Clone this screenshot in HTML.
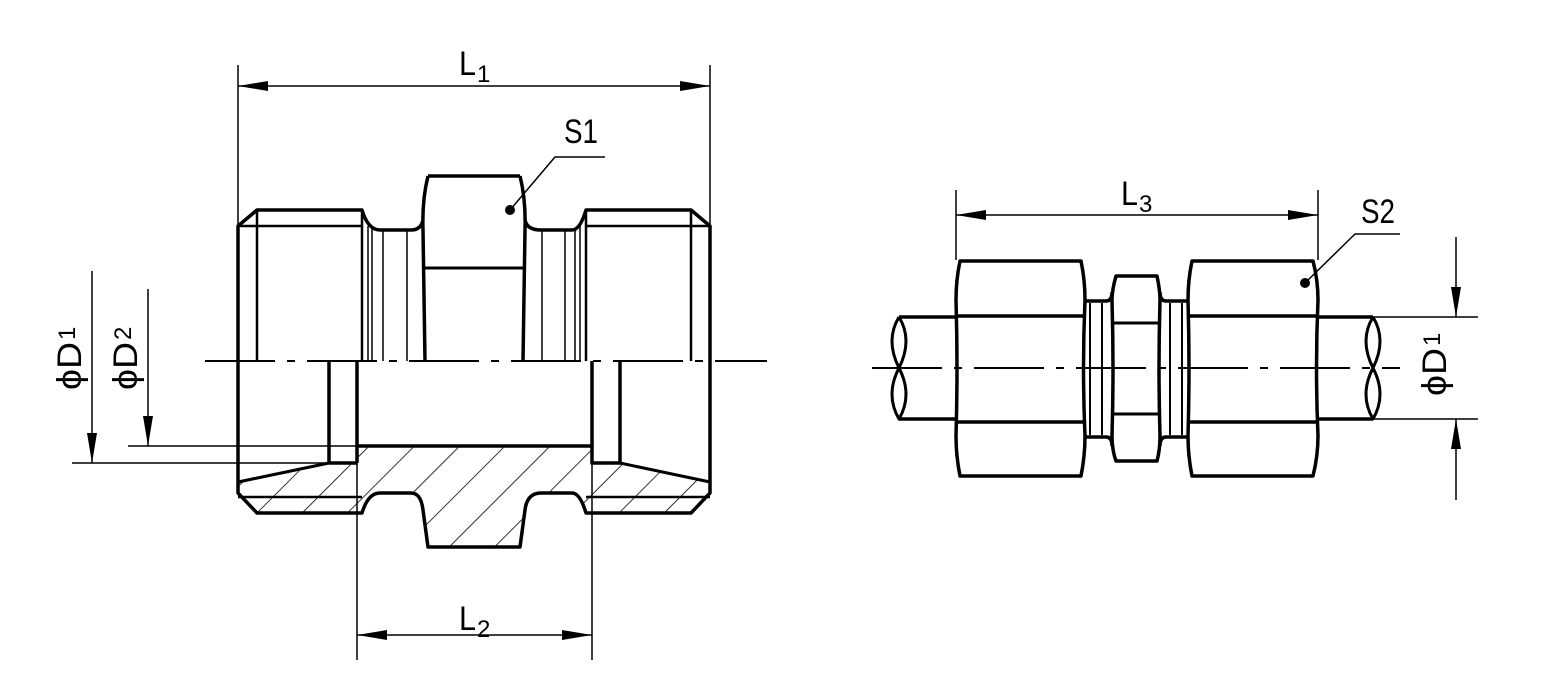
<!DOCTYPE html>
<html><head><meta charset="utf-8"><style>html,body{margin:0;padding:0;background:#fff}svg{display:block}</style></head>
<body>
<svg width="1546" height="695" viewBox="0 0 1546 695" xmlns="http://www.w3.org/2000/svg" font-family="Liberation Sans, sans-serif">
<defs>
<pattern id="h" patternUnits="userSpaceOnUse" width="32" height="32" patternTransform="rotate(45)">
<line x1="0" y1="0" x2="0" y2="32" stroke="#000" stroke-width="1.6"/>
</pattern>
<marker id="a" viewBox="0 0 30 10" refX="30" refY="5" markerWidth="30" markerHeight="10" markerUnits="userSpaceOnUse" orient="auto-start-reverse"><path d="M0,0 L30,5 L0,10 Z" fill="#000"/></marker>
</defs>
<g fill="none" stroke="#000" stroke-linejoin="round">
<path d="M238,482 L329,463 L357,463 L357,446 L592,446 L592,463 L620,463 L710,482 L710,493 L691,513 L586,513 Q580,493 572,493 L541,493 Q529,493 527,510 L520,547 L428,547 L423,510 Q421,493 411,493 L380,493 Q372,493 366,513 L257,513 L238,493 Z" fill="url(#h)" stroke="none"/>
<g stroke-width="3.5">
<path d="M238,361 L238,226 L257,210 L362,210 Q368,230 380,230 L411,230 Q421,230 423,220"/>
<path d="M525,220 Q527,230 541,230 L572,230 Q580,230 586,210 L691,210 L710,226 L710,361"/>
<path d="M428,176 L520,176"/>
<path d="M428,176 Q422,200 423,230 L425,361 M520,176 Q526,200 525,230 L523,361"/>
<path d="M238,361 L238,493 L257,513 L362,513 Q368,493 380,493 L411,493 Q421,493 423,510 L428,547 L520,547 L525,510 Q527,493 541,493 L572,493 Q580,493 586,513 L691,513 L710,493 L710,361"/>
<line x1="238" y1="226" x2="362" y2="226" stroke-width="2.5"/>
<line x1="586" y1="226" x2="710" y2="226" stroke-width="2.5"/>
<line x1="238" y1="497" x2="362" y2="497" stroke-width="2.5"/>
<line x1="586" y1="497" x2="710" y2="497" stroke-width="2.5"/>
<line x1="424" y1="268" x2="524" y2="268" stroke-width="3"/>
<line x1="257" y1="210" x2="257" y2="361" stroke-width="2.5"/>
<line x1="691" y1="210" x2="691" y2="361" stroke-width="2.5"/>
<line x1="362" y1="210" x2="362" y2="361" stroke-width="2.5"/>
<line x1="586" y1="210" x2="586" y2="361" stroke-width="2.5"/>
<path d="M357,361 L357,446 L592,446 L592,361"/>
<path d="M329,361 L329,463 L357,463 M357,446 L357,463 M592,446 L592,463 L620,463 L620,361"/>
<path d="M329,463 L238,482 M620,463 L710,482" stroke-width="3"/>
</g>
<g stroke-width="1.5">
<path d="M368,226 V361 M372,228 V361 M383,230 V361 M407,230 V361 M542,230 V361 M565,230 V361 M575,230 V361 M580,226 V361"/>
</g>
<line x1="205" y1="361" x2="767" y2="361" stroke-width="2" stroke-dasharray="70,12,8,12"/>
<g stroke-width="1.5">
<line x1="238" y1="65" x2="238" y2="228"/>
<line x1="710" y1="65" x2="710" y2="228"/>
<line x1="238" y1="86" x2="710" y2="86" marker-start="url(#a)" marker-end="url(#a)"/>
<line x1="357" y1="446" x2="357" y2="660"/>
<line x1="592" y1="446" x2="592" y2="660"/>
<line x1="357" y1="635" x2="592" y2="635" marker-start="url(#a)" marker-end="url(#a)"/>
<line x1="92" y1="271" x2="92" y2="463" marker-end="url(#a)"/>
<line x1="72" y1="463" x2="329" y2="463"/>
<line x1="148" y1="289" x2="148" y2="446" marker-end="url(#a)"/>
<line x1="128" y1="446" x2="357" y2="446"/>
<path d="M510,210 L555,157 L605,157"/>
</g>
<circle cx="510" cy="210" r="5" fill="#000" stroke="none"/>

<g stroke-width="3.5">
<path d="M899,317 L956,317 M899,419 L956,419 M1318,317 L1373,317 M1318,419 L1373,419"/>
<path d="M899,317 Q885,340 899,368 Q913,340 899,317 M899,368 Q885,395 899,419 Q913,395 899,368" stroke-width="3"/>
<path d="M1373,317 Q1387,340 1373,368 M1373,368 Q1359,395 1373,419 Q1387,395 1373,368 Q1359,340 1373,317" stroke-width="3"/>
<path d="M960,261 L1081,261 Q1085,280 1085,300 Q1082,368 1085,436 Q1085,456 1081,476 L960,476 Q956,456 956,436 Q958,368 956,300 Q956,280 960,261 Z"/>
<path d="M956,316 H1085 M956,422 H1085"/>
<path d="M1192,261 L1313,261 Q1318,280 1318,300 Q1315,368 1318,436 Q1318,456 1313,476 L1192,476 Q1188,456 1188,436 Q1190,368 1188,300 Q1188,280 1192,261 Z"/>
<path d="M1188,316 H1318 M1188,422 H1318"/>
<path d="M1085,301 H1106 Q1112,301 1112,292 M1085,437 H1106 Q1112,437 1112,446 M1160,292 Q1160,301 1166,301 H1188 M1160,446 Q1160,437 1166,437 H1188"/>
<path d="M1116,276 L1157,276 Q1160,290 1160,300 Q1158,368 1160,436 Q1160,450 1157,461 L1116,461 Q1112,450 1112,436 Q1114,368 1112,300 Q1112,290 1116,276 Z"/>
<path d="M1112,323 H1160 M1112,414 H1160" stroke-width="3"/>
</g>
<g stroke-width="2">
<path d="M1090,303 V435 M1102,303 V435 M1170,303 V435 M1182,303 V435"/>
</g>
<line x1="872" y1="368" x2="1400" y2="368" stroke-width="2" stroke-dasharray="70,12,8,12"/>
<g stroke-width="1.5">
<line x1="956" y1="190" x2="956" y2="260"/>
<line x1="1318" y1="190" x2="1318" y2="260"/>
<line x1="956" y1="215" x2="1318" y2="215" marker-start="url(#a)" marker-end="url(#a)"/>
<path d="M1305,283 L1355,234 L1400,234"/>
<line x1="1373" y1="317" x2="1478" y2="317"/>
<line x1="1373" y1="419" x2="1478" y2="419"/>
<line x1="1456" y1="237" x2="1456" y2="317" marker-end="url(#a)"/>
<line x1="1456" y1="500" x2="1456" y2="419" marker-end="url(#a)"/>
</g>
<circle cx="1305" cy="283" r="5" fill="#000" stroke="none"/>
</g>
<g fill="#000" font-size="34">
<text x="459" y="75" textLength="17" lengthAdjust="spacingAndGlyphs">L</text><text x="477" y="82" font-size="24">1</text>
<text x="459" y="630" textLength="17" lengthAdjust="spacingAndGlyphs">L</text><text x="477" y="637" font-size="24">2</text>
<text x="1121" y="205" textLength="17" lengthAdjust="spacingAndGlyphs">L</text><text x="1139" y="212" font-size="24">3</text>
<text x="564" y="143" textLength="34" lengthAdjust="spacingAndGlyphs">S1</text>
<text x="1361" y="223" textLength="34" lengthAdjust="spacingAndGlyphs">S2</text>
<g transform="translate(81,390) rotate(-90)"><text x="0" y="0" textLength="48" lengthAdjust="spacingAndGlyphs">ϕD</text><text x="50" y="-6" font-size="24">1</text></g>
<g transform="translate(137,390) rotate(-90)"><text x="0" y="0" textLength="48" lengthAdjust="spacingAndGlyphs">ϕD</text><text x="50" y="-6" font-size="24">2</text></g>
<g transform="translate(1446,396) rotate(-90)"><text x="0" y="0" textLength="48" lengthAdjust="spacingAndGlyphs">ϕD</text><text x="50" y="-6" font-size="24">1</text></g>
</g>
</svg>
</body></html>
